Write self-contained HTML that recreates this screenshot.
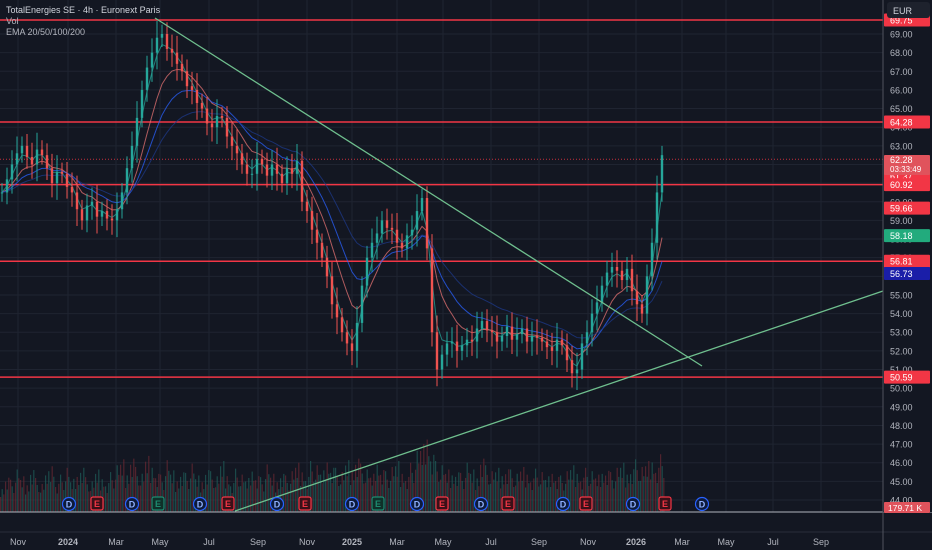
<!DOCTYPE html>
<html><head><meta charset="utf-8"><style>
html,body{margin:0;padding:0;background:#131722;width:932px;height:550px;overflow:hidden;font-family:"Liberation Sans",sans-serif}
svg{display:block}
</style></head><body>
<svg id="chart" width="932" height="550" xmlns="http://www.w3.org/2000/svg"></svg>
<script>
const closes=[60.5,61.2,62,62.6,63,62.4,62,62.8,62.5,61.8,61,61.6,
61.5,60.8,60.5,59.6,59,59.8,60,59.2,59.5,59.1,59,59.6,
60.5,61.8,63,64.5,66,67.2,68,68.8,69,68.2,68,67.4,
67,66.2,66,65.3,65,64.2,64,64.6,64.5,63.5,63,62.6,
62,61.5,61.5,62.3,62,61.4,62,61.5,61,61.8,61.5,62.2,
60,59.5,58.5,57.8,57,56,54.5,53.8,53,52.4,52,53.5,
55.5,57,57.8,58.3,59,58.6,58.5,57.8,57.5,58.2,58.5,59.5,
60.2,57.5,53,51,51.8,52.4,52.5,52,52.3,52.6,52.5,53.2,
53.6,53.1,53,52.5,52.8,53.3,52.6,52.9,53.2,52.5,52.8,52.7,
52.5,52.2,52,52.6,52.3,51.5,50.8,51,52.4,53,54,54.6,
55.5,56.2,56.5,56.3,55.8,56.4,55.2,54.5,54,56,57.8,60.5,62.5];
const volumes=[30,45,38,50,42,35,55,40,33,48,60,37,44,52,39,46,58,41,36,50,43,38,47,55,
62,48,70,53,45,66,58,50,44,61,49,40,52,46,57,43,39,55,48,42,60,47,38,51,
44,40,53,47,41,56,45,39,50,43,48,58,52,46,60,55,49,65,58,52,47,61,54,70,
57,50,45,62,55,48,53,60,50,46,58,72,80,95,75,60,55,50,48,52,46,58,50,44,
70,55,48,52,47,56,50,45,53,49,44,51,47,42,50,46,43,48,55,50,45,52,48,44,
50,54,47,52,58,49,56,62,53,60,65,58,68];
const priceTicks=[69,68,67,66,65,64,63,62,61,60,59,58,57,56,55,54,53,52,51,50,49,48,47,46,45,44];
const levelLines=[69.75,64.28,60.92,56.81,50.59];
const timeLabels=["Nov","2024","Mar","May","Jul","Sep","Nov","2025","Mar","May","Jul","Sep","Nov","2026","Mar","May","Jul","Sep"];
const timePos=[18,68,116,160,209,258,307,352,397,443,491,539,588,636,682,726,773,821];
const events=["D","E","D","e","D","E","D","E","D","e","D","E","D","E","D","E","D","E","D"];
const eventPos=[69,97,132,158,200,228,277,305,352,378,417,442,481,508,563,586,633,665,702];

const NS="http://www.w3.org/2000/svg";
const svg=document.getElementById('chart');
const PW=883;
function y(p){return 34+(69-p)*18.64;}
function xi(i){return i*5;}
function el(t,a,parent){const e=document.createElementNS(NS,t);for(const k in a)e.setAttribute(k,a[k]);(parent||svg).appendChild(e);return e;}
function txt(s,a,parent){const e=el('text',a,parent);e.textContent=s;return e;}

const grid=el('g',{});


priceTicks.forEach(p=>{el('line',{x1:0,x2:PW,y1:y(p),y2:y(p),stroke:'#1f2431','stroke-width':1},grid);});
timePos.forEach(t=>{el('line',{x1:t,x2:t,y1:0,y2:512,stroke:'#1f2431','stroke-width':1},grid);});

const vg=el('g',{});


volumes.forEach((v,i)=>{for(let k=0;k<3;k++){const h=v*(0.5+0.35*((i*7+k*3)%5)/4);const up=k%2? (closes[i]>=(closes[i-1]||closes[i])):!(closes[i]>=(closes[i-1]||closes[i]));
const b=el('rect',{x:xi(i)+k*1.6,y:512-h,width:1.2,height:h,fill:up?'#1f5f5a':'#6b2a33',opacity:0.7},vg);

}});

levelLines.forEach(p=>{const l=el('line',{x1:0,x2:PW,y1:y(p),y2:y(p),stroke:'#f23645','stroke-width':1.5});

});
const dl=el('line',{x1:0,x2:PW,y1:y(62.28),y2:y(62.28),stroke:'#f23645','stroke-width':1,'stroke-dasharray':'1 2',opacity:0.8});



function ema(a,n){const r=[];let e=a[0];const k=2/(n+1);a.forEach(v=>{e=v*k+e*(1-k);r.push(e);});return r;}
[[3,'#26a69a'],[8,'#e57373'],[14,'#2962ff'],[24,'#1e3a8a']].forEach(([n,c])=>{const e=ema(closes,n);
const p=el('polyline',{points:e.map((v,i)=>xi(i)+2+','+y(v)).join(' '),fill:'none',stroke:c,'stroke-width':1,opacity:0.75});

});

const cg=el('g',{});


closes.forEach((c,i)=>{const o=i?closes[i-1]:c;const w=0.5+0.4*((i*5)%4)/3;const hi=Math.max(o,c)+w,lo=Math.min(o,c)-w;const up=c>=o;const col=up?'#26a69a':'#ef5350';
el('line',{x1:xi(i)+2,x2:xi(i)+2,y1:y(hi),y2:y(lo),stroke:col,'stroke-width':1},cg);
const r=el('rect',{x:xi(i)+0.8,y:y(Math.max(o,c)),width:2.4,height:Math.max(1,Math.abs(y(o)-y(c))),fill:col},cg);

});

const t1=el('line',{x1:155,y1:18,x2:702,y2:366,stroke:'#6fbf8e','stroke-width':1.3});


const t2=el('line',{x1:235,y1:511,x2:883,y2:291,stroke:'#6fbf8e','stroke-width':1.3});



events.forEach((e,i)=>{const x=eventPos[i];const g=el('g',{});


if(e==='D'){el('circle',{cx:x,cy:504,r:6.5,fill:'#0d1a3a',stroke:'#2962ff','stroke-width':1.2},g);txt('D',{x:x,y:507.5,'font-size':9,fill:'#8fb0ff','text-anchor':'middle','font-weight':'bold'},g);}
else{const c=e==='E'?'#f23645':'#1f8a70';el('rect',{x:x-6,y:497,width:12,height:13,rx:2,fill:e==='E'?'#3a1018':'#0f3029',stroke:c,'stroke-width':1.2},g);txt('E',{x:x,y:507,'font-size':9,fill:c,'text-anchor':'middle','font-weight':'bold'},g);}});

el('rect',{x:0,y:512,width:932,height:38,fill:'#131722'});
el('line',{x1:0,x2:932,y1:512,y2:512,stroke:'#b2b5be','stroke-width':1});
el('line',{x1:0,x2:932,y1:532,y2:532,stroke:'#2a2e39','stroke-width':1});
el('rect',{x:PW,y:0,width:49,height:512,fill:'#131722'});
el('line',{x1:PW,x2:PW,y1:0,y2:550,stroke:'#50535e','stroke-width':1});
const tg=el('g',{});


timeLabels.forEach((s,i)=>{txt(s,{x:timePos[i],y:545,'font-size':9,fill:'#b2b5be','text-anchor':'middle','font-weight':/^\d/.test(s)?'bold':'normal'},tg);});
const yg=el('g',{});


priceTicks.forEach(p=>{txt(p.toFixed(2),{x:890,y:y(p)+3.5,'font-size':9,fill:'#b2b5be'},yg);});

const badges=[[69.75,'69.75','#f23645'],[64.28,'64.28','#f23645'],[61.37,'61.37','#f23645'],[60.92,'60.92','#f23645'],[59.66,'59.66','#f23645'],[58.18,'58.18','#22ab7d'],[56.81,'56.81','#f23645'],[56.15,'56.73','#1a1ea8'],[50.59,'50.59','#f23645']];
badges.forEach(b=>{const g=el('g',{});


el('rect',{x:884,y:y(b[0])-6.5,width:46,height:13,fill:b[2],rx:1},g);txt(b[1],{x:890,y:y(b[0])+3.5,'font-size':9,fill:'#fff'},g);});
const lp=el('g',{});


el('rect',{x:884,y:155,width:46,height:20,fill:'#e0535c',rx:1},lp);
txt('62.28',{x:890,y:163,'font-size':9,fill:'#fff'},lp);txt('03:33:49',{x:890,y:172,'font-size':8,fill:'#fff'},lp);
const vb=el('g',{});


el('rect',{x:884,y:502,width:46,height:11,fill:'#e0535c',rx:1},vb);txt('179.71 K',{x:888,y:511,'font-size':8.5,fill:'#fff'},vb);
const cur=el('g',{});


el('rect',{x:887,y:2,width:43,height:16,rx:3,fill:'#1e222d'},cur);txt('EUR',{x:893,y:14,'font-size':9,fill:'#d1d4dc'},cur);

const lg=el('g',{});


txt('TotalEnergies SE · 4h · Euronext Paris',{x:6,y:13,'font-size':9,fill:'#d1d4dc'},lg);
txt('Vol',{x:6,y:24,'font-size':9,fill:'#b2b5be'},lg);
txt('EMA 20/50/100/200',{x:6,y:35,'font-size':9,fill:'#b2b5be'},lg);
</script>
</body></html>
